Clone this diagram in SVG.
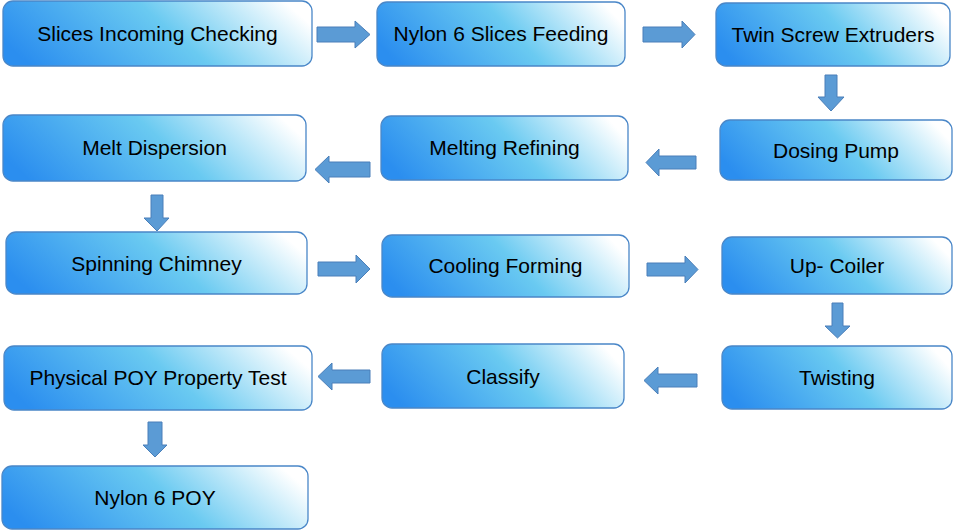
<svg xmlns="http://www.w3.org/2000/svg" width="953" height="530" viewBox="0 0 953 530">
<defs>
<linearGradient id="g" x1="0" y1="0.62" x2="1" y2="0.38">
<stop offset="0" stop-color="#2b8eef"/>
<stop offset="0.55" stop-color="#6acaf1"/>
<stop offset="1" stop-color="#ffffff"/>
</linearGradient>
<style>
.box{fill:url(#g);stroke:#4a87c8;stroke-width:1.3}
.t{font-family:"Liberation Sans",Arial,sans-serif;font-size:21px;fill:#000;text-anchor:middle}
.arr{fill:#5b9bd5;stroke:#4a7fb9;stroke-width:1}
</style>
</defs>
<rect width="953" height="530" fill="#fff"/>
<g id="connectors">
<polygon class="arr" points="317,27 355,27 355,21 370,34.5 355,48 355,42 317,42"/>
<polygon class="arr" points="643,27 682,27 682,21 695,34.5 682,48 682,42 643,42"/>
<polygon class="arr" points="825,75 837,75 837,97 844,97 831,111 818,97 825,97"/>
<polygon class="arr" points="696,156 659,156 659,149 646,162.5 659,176 659,169 696,169"/>
<polygon class="arr" points="370,162 329,162 329,156 315,169.5 329,183 329,177 370,177"/>
<polygon class="arr" points="151,195 163,195 163,218 169,218 157,231 144,218 151,218"/>
<polygon class="arr" points="318,262 356,262 356,255 370,269 356,283 356,276 318,276"/>
<polygon class="arr" points="647,263 685,263 685,256 698,269.5 685,283 685,276 647,276"/>
<polygon class="arr" points="832,303 843,303 843,326 850,326 837.5,338 825,326 832,326"/>
<polygon class="arr" points="697,374 658,374 658,367 644,380.5 658,394 658,387 697,387"/>
<polygon class="arr" points="370,370 332,370 332,363 318,376.5 332,390 332,383 370,383"/>
<polygon class="arr" points="148,422 162,422 162,445 167,445 155,457 143,445 148,445"/>
</g>
<g id="n1"><rect class="box" x="3" y="1" width="309" height="65" rx="10"/><text class="t" x="157.5" y="41">Slices Incoming Checking</text></g>
<g id="n2"><rect class="box" x="377" y="2" width="248" height="64" rx="10"/><text class="t" x="501" y="41">Nylon 6 Slices Feeding</text></g>
<g id="n3"><rect class="box" x="716" y="3" width="234" height="63" rx="10"/><text class="t" x="833" y="42">Twin Screw Extruders</text></g>
<g id="n4"><rect class="box" x="720" y="120" width="232" height="60" rx="10"/><text class="t" x="836" y="158">Dosing Pump</text></g>
<g id="n5"><rect class="box" x="381" y="116" width="247" height="64" rx="10"/><text class="t" x="504.5" y="155">Melting Refining</text></g>
<g id="n6"><rect class="box" x="3" y="115" width="303" height="66" rx="10"/><text class="t" x="154.5" y="155">Melt Dispersion</text></g>
<g id="n7"><rect class="box" x="6" y="232" width="301" height="62" rx="10"/><text class="t" x="156.5" y="271">Spinning Chimney</text></g>
<g id="n8"><rect class="box" x="382" y="235" width="247" height="62" rx="10"/><text class="t" x="505.5" y="273">Cooling Forming</text></g>
<g id="n9"><rect class="box" x="722" y="237" width="230" height="57" rx="10"/><text class="t" x="837" y="273">Up- Coiler</text></g>
<g id="n10"><rect class="box" x="722" y="346" width="230" height="63" rx="10"/><text class="t" x="837" y="385">Twisting</text></g>
<g id="n11"><rect class="box" x="382" y="344" width="242" height="64" rx="10"/><text class="t" x="503" y="384">Classify</text></g>
<g id="n12"><rect class="box" x="4" y="346" width="308" height="64" rx="10"/><text class="t" x="158" y="385">Physical POY Property Test</text></g>
<g id="n13"><rect class="box" x="2" y="466" width="306" height="63" rx="10"/><text class="t" x="155" y="505">Nylon 6 POY</text></g>
</svg>
